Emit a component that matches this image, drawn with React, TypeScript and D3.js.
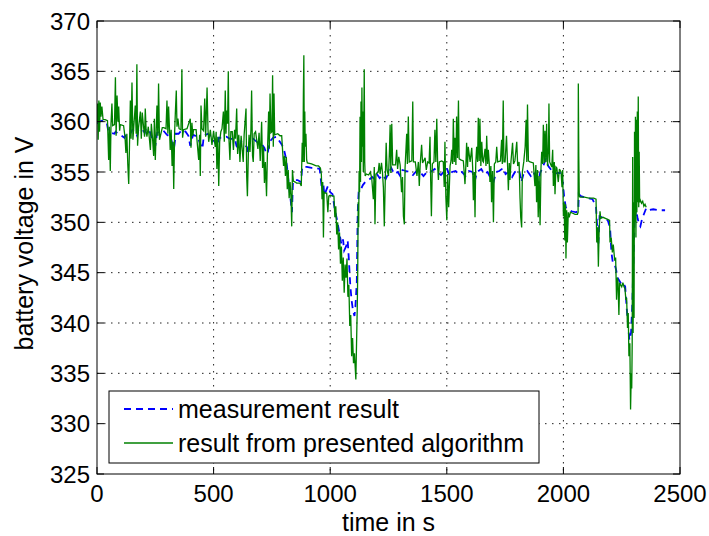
import React from "react";
import * as d3 from "d3";

const xTicks = [0, 500, 1000, 1500, 2000, 2500];
const yTicks = [325, 330, 335, 340, 345, 350, 355, 360, 365, 370];
const xLabel = "time in s";
const yLabel = "battery voltage in V";
const seriesNames = ["measurement result", "result from presented algorithm"];

// measurement result (blue dashed): [time s, voltage V]
const measured: [number, number][] = [
  [0, 359.8], [10, 360.0], [20, 360.1], [35, 360.0], [42, 359.9], [48, 359.1], [60, 358.9], [75, 358.8],
  [80, 359.0], [90, 358.8], [105, 358.6], [118, 358.4], [125, 358.8], [140, 358.7], [152, 359.2], [165, 359.0],
  [172, 358.6], [178, 359.2], [195, 359.2], [205, 358.9], [210, 359.3], [225, 359.1], [235, 358.4], [245, 358.2],
  [250, 357.6], [258, 358.9], [270, 359.0], [285, 359.1], [300, 358.7], [315, 358.5], [322, 357.9], [330, 357.3],
  [338, 358.8], [350, 358.8], [365, 359.2], [380, 359.0], [392, 358.6], [400, 357.6], [412, 358.7], [430, 358.5],
  [445, 357.7], [452, 357.3], [458, 358.6], [475, 358.8], [490, 358.5], [502, 358.1], [515, 357.5], [523, 358.4],
  [540, 358.4], [555, 358.5], [570, 358.3], [592, 358.3], [598, 357.6], [612, 357.2], [618, 358.0], [630, 357.7],
  [642, 357.5], [648, 356.9], [655, 358.2], [670, 358.3], [690, 357.9], [705, 357.8], [718, 357.4], [726, 356.8],
  [733, 357.0], [740, 358.0], [755, 358.4], [770, 358.5], [790, 357.8], [800, 357.4], [808, 356.6], [815, 355.5],
  [822, 353.9], [830, 352.3], [836, 351.0], [840, 353.8], [845, 354.2], [860, 354.2], [875, 354.0], [880, 355.5],
  [900, 355.5], [920, 355.4], [940, 355.4], [955, 355.3], [962, 353.8], [970, 354.0], [975, 352.7], [990, 353.6],
  [1000, 353.0], [1010, 352.8], [1020, 351.2], [1028, 350.4], [1035, 349.5], [1042, 348.6], [1048, 347.8], [1055, 348.3],
  [1060, 347.2], [1068, 347.6], [1075, 348.2], [1080, 346.3], [1086, 343.8], [1092, 342.2], [1098, 341.2], [1104, 340.7],
  [1108, 341.6], [1114, 344.0], [1118, 351.0], [1122, 353.0], [1130, 353.2], [1140, 353.7], [1150, 354.0], [1165, 354.2],
  [1180, 354.5], [1190, 354.3], [1200, 354.8], [1212, 354.4], [1225, 354.7], [1238, 354.3], [1250, 354.9], [1262, 355.4],
  [1275, 354.8], [1290, 355.0], [1300, 354.6], [1310, 355.2], [1325, 355.1], [1340, 355.0], [1355, 354.7], [1370, 355.1],
  [1385, 355.0], [1400, 354.6], [1418, 355.1], [1430, 355.0], [1448, 355.3], [1460, 355.0], [1475, 354.7], [1490, 355.1],
  [1500, 355.4], [1512, 354.6], [1522, 355.0], [1538, 355.1], [1550, 354.8], [1565, 355.0], [1580, 354.6], [1595, 355.1],
  [1610, 355.0], [1620, 354.1], [1630, 355.0], [1648, 355.3], [1660, 354.8], [1675, 355.0], [1690, 354.3], [1700, 354.0],
  [1712, 355.0], [1725, 355.1], [1742, 355.4], [1752, 354.8], [1765, 355.0], [1780, 354.5], [1792, 355.0], [1810, 355.2],
  [1820, 354.0], [1830, 354.9], [1845, 355.1], [1860, 354.6], [1872, 355.0], [1886, 354.2], [1892, 353.6], [1900, 354.9],
  [1912, 355.5], [1925, 356.3], [1935, 355.6], [1948, 355.2], [1960, 354.8], [1975, 354.9], [1990, 354.9], [1998, 353.8],
  [2003, 352.6], [2010, 351.5], [2020, 351.3], [2035, 351.1], [2055, 351.0], [2064, 351.2], [2066, 352.8], [2075, 352.6],
  [2090, 352.5], [2105, 352.4], [2125, 352.3], [2140, 351.5], [2145, 349.5], [2150, 347.9], [2155, 350.6], [2165, 350.5],
  [2180, 350.4], [2190, 350.2], [2200, 349.5], [2206, 347.0], [2212, 346.0], [2220, 345.8], [2226, 345.3], [2232, 344.5],
  [2240, 344.2], [2250, 343.8], [2258, 343.9], [2265, 343.6], [2271, 341.6], [2278, 339.6], [2283, 338.3], [2290, 339.0],
  [2295, 341.5], [2300, 345.8], [2305, 350.0], [2312, 351.3], [2318, 350.4], [2325, 349.8], [2330, 349.6], [2336, 350.2],
  [2345, 350.8], [2355, 351.4], [2365, 351.2], [2385, 351.3], [2410, 351.2], [2436, 351.2],
];

// result from presented algorithm (green solid): [time s, voltage V]
const algorithm: [number, number][] = [
  [0, 360.0], [3, 361.8], [5, 358.2], [8, 362.1], [11, 359.0], [14, 361.9], [17, 360.5], [21, 361.5], [26, 360.2],
  [35, 360.2], [45, 360.1], [50, 356.2], [53, 359.5], [57, 355.1], [60, 359.8], [64, 361.8], [67, 359.6], [75, 359.7],
  [79, 364.4], [82, 358.6], [86, 362.6], [90, 360.0], [93, 361.5], [97, 359.1], [100, 359.7], [114, 359.6], [120, 358.5],
  [124, 356.9], [128, 358.8], [132, 355.8], [136, 353.8], [139, 357.2], [143, 362.1], [146, 358.3], [150, 363.9],
  [154, 358.2], [158, 359.6], [164, 361.6], [168, 358.8], [171, 365.7], [174, 357.6], [178, 359.4], [186, 361.0],
  [190, 358.3], [194, 360.9], [200, 359.4], [204, 358.5], [207, 361.3], [211, 359.0], [214, 358.5], [220, 359.5],
  [229, 357.2], [233, 359.8], [238, 358.4], [243, 356.6], [246, 360.3], [250, 356.2], [254, 359.2], [257, 361.6],
  [261, 358.6], [264, 363.8], [268, 358.2], [272, 358.6], [280, 359.4], [286, 359.4], [296, 359.3], [300, 362.1],
  [304, 358.8], [307, 361.5], [311, 359.2], [314, 357.2], [318, 359.2], [322, 355.6], [326, 358.0], [329, 353.3],
  [333, 359.0], [336, 360.9], [340, 363.1], [343, 359.5], [347, 360.3], [352, 359.3], [360, 359.2], [364, 365.2],
  [367, 358.4], [371, 359.2], [386, 359.3], [400, 360.3], [403, 357.4], [407, 359.9], [411, 358.6], [414, 359.2],
  [425, 359.2], [436, 356.2], [440, 358.7], [443, 354.6], [446, 361.6], [450, 359.3], [457, 359.1], [462, 362.3],
  [466, 358.5], [472, 363.4], [476, 359.2], [479, 358.0], [486, 359.2], [493, 357.7], [500, 359.1], [507, 357.5],
  [511, 359.0], [514, 355.3], [518, 358.5], [522, 353.6], [526, 358.0], [531, 359.0], [536, 359.3], [542, 361.0],
  [546, 358.0], [550, 363.1], [553, 358.8], [556, 361.1], [560, 359.8], [563, 365.0], [566, 358.2], [570, 356.2],
  [574, 359.0], [580, 359.0], [585, 357.2], [590, 359.2], [594, 358.3], [599, 361.3], [603, 356.8], [608, 358.7],
  [613, 356.0], [618, 358.6], [627, 356.0], [631, 358.7], [639, 361.3], [642, 354.5], [645, 352.6], [649, 356.8],
  [652, 358.7], [656, 357.0], [660, 359.2], [663, 363.1], [667, 356.6], [670, 356.0], [674, 358.8], [680, 359.0],
  [690, 357.3], [695, 358.9], [700, 356.1], [706, 360.0], [710, 355.4], [714, 357.5], [718, 353.9], [722, 356.0],
  [727, 352.6], [731, 357.0], [736, 361.0], [739, 357.3], [742, 362.8], [746, 358.9], [750, 359.0], [753, 364.6],
  [756, 357.5], [759, 362.8], [762, 358.7], [775, 358.8], [785, 358.6], [792, 358.6], [796, 357.1], [800, 355.6],
  [804, 356.6], [808, 354.6], [812, 356.5], [816, 353.3], [820, 355.2], [824, 352.4], [828, 354.0], [832, 352.4],
  [835, 349.6], [838, 355.2], [842, 354.1], [850, 354.0], [856, 353.9], [862, 353.9], [870, 353.9], [876, 353.6],
  [880, 357.9], [883, 356.0], [885, 362.7], [887, 366.6], [889, 356.0], [891, 361.0], [893, 357.5], [896, 358.8],
  [899, 356.2], [902, 355.9], [920, 355.8], [940, 355.6], [950, 355.6], [958, 355.4], [962, 354.8], [965, 352.3],
  [968, 354.0], [971, 348.5], [974, 353.0], [978, 352.9], [985, 352.9], [990, 351.0], [994, 352.6], [1000, 352.7],
  [1010, 352.6], [1016, 352.6], [1020, 350.5], [1024, 351.6], [1028, 348.8], [1032, 350.0], [1036, 347.3], [1040, 349.0],
  [1044, 345.9], [1048, 347.6], [1052, 344.2], [1056, 346.5], [1060, 343.0], [1064, 345.8], [1068, 344.5], [1072, 346.4],
  [1076, 342.6], [1080, 343.8], [1084, 339.7], [1088, 340.8], [1092, 336.7], [1096, 338.5], [1100, 336.0], [1104, 337.0],
  [1110, 334.4], [1113, 338.0], [1116, 341.5], [1118, 345.0], [1120, 352.0], [1122, 349.5], [1124, 355.1], [1126, 353.0],
  [1128, 360.5], [1130, 354.0], [1132, 362.0], [1134, 356.0], [1136, 363.4], [1138, 357.5], [1140, 361.0], [1142, 355.0],
  [1144, 359.5], [1146, 365.2], [1148, 356.0], [1150, 354.6], [1155, 354.8], [1165, 354.7], [1172, 355.0], [1178, 354.4],
  [1185, 352.3], [1189, 355.5], [1192, 349.8], [1196, 354.8], [1206, 355.0], [1210, 355.9], [1214, 354.8], [1220, 355.9],
  [1224, 355.0], [1228, 353.5], [1232, 349.6], [1236, 354.0], [1240, 357.9], [1244, 355.2], [1250, 354.6], [1254, 357.0],
  [1257, 359.7], [1260, 354.9], [1264, 359.8], [1268, 355.7], [1280, 355.7], [1285, 357.2], [1289, 355.3], [1294, 356.5],
  [1300, 355.7], [1306, 353.0], [1310, 354.5], [1314, 350.6], [1318, 349.8], [1321, 355.4], [1328, 358.8], [1331, 355.8],
  [1335, 360.5], [1339, 356.0], [1350, 356.1], [1354, 362.0], [1357, 356.0], [1365, 356.0], [1372, 354.6], [1378, 356.0],
  [1382, 353.6], [1386, 355.8], [1392, 357.7], [1396, 355.9], [1407, 356.4], [1412, 355.2], [1418, 356.0], [1424, 355.9],
  [1428, 358.5], [1431, 354.0], [1434, 350.6], [1438, 355.8], [1445, 356.0], [1449, 359.2], [1453, 356.0], [1457, 360.3],
  [1461, 355.5], [1464, 354.2], [1468, 356.0], [1478, 356.1], [1485, 356.0], [1489, 353.5], [1492, 358.0], [1496, 352.5],
  [1500, 350.2], [1504, 354.8], [1508, 351.5], [1514, 355.6], [1518, 356.1], [1521, 357.2], [1525, 355.8], [1528, 360.3],
  [1532, 356.0], [1535, 358.4], [1539, 355.7], [1542, 360.5], [1546, 356.4], [1550, 362.1], [1553, 356.3], [1560, 356.2],
  [1571, 356.1], [1578, 353.8], [1582, 355.8], [1585, 357.9], [1589, 355.5], [1592, 357.5], [1600, 356.0], [1607, 357.4],
  [1611, 355.4], [1614, 352.2], [1618, 355.0], [1621, 350.5], [1624, 355.8], [1628, 357.5], [1632, 356.0], [1635, 360.4],
  [1639, 356.1], [1642, 360.3], [1646, 355.6], [1650, 358.0], [1654, 356.1], [1657, 356.0], [1664, 357.3], [1668, 355.6],
  [1671, 358.6], [1675, 355.8], [1678, 357.2], [1682, 355.9], [1685, 354.0], [1689, 355.6], [1692, 352.0], [1696, 355.1],
  [1700, 350.0], [1704, 355.8], [1710, 356.0], [1714, 357.5], [1718, 356.0], [1730, 356.1], [1735, 358.2], [1738, 355.8],
  [1742, 362.1], [1745, 356.0], [1750, 356.0], [1756, 358.6], [1760, 356.1], [1764, 353.2], [1768, 355.9], [1771, 354.2],
  [1775, 356.0], [1782, 357.9], [1786, 355.8], [1792, 356.1], [1800, 358.0], [1804, 355.6], [1810, 356.0], [1814, 352.4],
  [1817, 350.5], [1821, 349.5], [1824, 355.0], [1830, 356.0], [1836, 357.5], [1840, 360.2], [1843, 356.0], [1846, 361.7],
  [1850, 356.1], [1857, 356.0], [1871, 355.9], [1878, 353.6], [1882, 355.7], [1885, 352.0], [1889, 355.2], [1892, 350.5],
  [1896, 354.6], [1900, 349.7], [1904, 355.5], [1907, 357.0], [1911, 355.8], [1914, 359.7], [1918, 355.9], [1921, 359.1],
  [1925, 356.0], [1928, 359.8], [1932, 355.6], [1936, 357.3], [1938, 361.8], [1941, 356.0], [1943, 355.9], [1950, 355.5],
  [1954, 357.2], [1957, 353.6], [1961, 356.0], [1964, 352.8], [1968, 355.5], [1972, 355.4], [1978, 354.0], [1983, 355.3],
  [1990, 355.0], [1994, 353.5], [1997, 355.2], [2000, 350.6], [2003, 352.0], [2006, 348.2], [2009, 351.8], [2011, 346.4],
  [2014, 351.2], [2017, 348.0], [2021, 351.0], [2025, 350.5], [2030, 351.0], [2040, 350.9], [2050, 350.8], [2060, 350.8],
  [2063, 351.0], [2064, 363.8], [2066, 356.5], [2068, 352.6], [2071, 352.5], [2090, 352.5], [2110, 352.4], [2130, 352.4],
  [2140, 352.3], [2143, 348.0], [2147, 349.5], [2150, 345.6], [2153, 349.0], [2157, 351.1], [2160, 350.4], [2170, 350.5],
  [2180, 350.4], [2190, 350.3], [2198, 350.2], [2200, 348.0], [2205, 348.5], [2210, 347.0], [2214, 347.8], [2220, 346.2],
  [2224, 346.5], [2228, 342.3], [2231, 344.5], [2234, 344.2], [2238, 340.8], [2241, 344.0], [2245, 343.8], [2250, 343.6],
  [2255, 344.0], [2260, 343.6], [2264, 343.4], [2268, 342.3], [2271, 342.5], [2275, 339.5], [2278, 341.0], [2281, 336.7],
  [2285, 338.0], [2288, 331.4], [2291, 335.0], [2293, 333.5], [2295, 338.0], [2297, 356.5], [2299, 339.0], [2301, 352.0],
  [2303, 340.5], [2305, 359.0], [2307, 350.0], [2309, 360.5], [2311, 348.5], [2313, 360.2], [2315, 351.0], [2317, 361.0],
  [2319, 352.0], [2321, 362.5], [2323, 351.5], [2325, 357.0], [2327, 352.0], [2330, 352.2], [2335, 351.9], [2340, 352.1],
  [2345, 351.6], [2350, 351.8], [2355, 351.5],
];

const FONT = "'Liberation Sans', Arial, Helvetica, sans-serif";

export default function App() {
  const W = 709;
  const H = 536;
  const left = 97, right = 680, top = 21, bottom = 474;
  const x = d3.scaleLinear().domain([0, 2500]).range([left, right]);
  const y = d3.scaleLinear().domain([325, 370]).range([bottom, top]);
  const line = d3
    .line<[number, number]>()
    .x((d) => x(d[0]))
    .y((d) => y(d[1]));
  const tickLen = 7;
  const fs = 24;

  return (
    <svg
      width={W}
      height={H}
      style={{ position: "fixed", left: 0, top: 0, background: "#fff", fontFamily: FONT }}
    >
      <rect x={0} y={0} width={W} height={H} fill="#fff" />
      <defs>
        <clipPath id="plotclip">
          <rect x={left} y={top} width={right - left} height={bottom - top} />
        </clipPath>
      </defs>
      {/* grid */}
      {xTicks.slice(1, -1).map((t) => (
        <line key={"gx" + t} x1={x(t)} x2={x(t)} y1={top} y2={bottom} stroke="#222" strokeWidth={1} strokeDasharray="1.5,5.5" />
      ))}
      {yTicks.slice(1, -1).map((t) => (
        <line key={"gy" + t} x1={left} x2={right} y1={y(t)} y2={y(t)} stroke="#222" strokeWidth={1} strokeDasharray="1.5,5.5" />
      ))}
      {/* data */}
      <g clipPath="url(#plotclip)">
        <path d={line(measured) || ""} fill="none" stroke="#0000ff" strokeWidth={1.8} strokeDasharray="7,5" />
        <path d={line(algorithm) || ""} fill="none" stroke="#008000" strokeWidth={1.3} strokeLinejoin="miter" strokeMiterlimit={3} />
      </g>
      {/* ticks */}
      {xTicks.map((t) => (
        <g key={"tx" + t}>
          <line x1={x(t)} x2={x(t)} y1={bottom} y2={bottom - tickLen} stroke="#000" />
          <line x1={x(t)} x2={x(t)} y1={top} y2={top + tickLen} stroke="#000" />
          <text x={x(t)} y={502} textAnchor="middle" fontSize={fs} fill="#000">
            {t}
          </text>
        </g>
      ))}
      {yTicks.map((t) => (
        <g key={"ty" + t}>
          <line x1={left} x2={left + tickLen} y1={y(t)} y2={y(t)} stroke="#000" />
          <line x1={right} x2={right - tickLen} y1={y(t)} y2={y(t)} stroke="#000" />
          <text x={90} y={y(t) + 8.5} textAnchor="end" fontSize={fs} fill="#000">
            {t}
          </text>
        </g>
      ))}
      {/* box */}
      <rect x={left} y={top} width={right - left} height={bottom - top} fill="none" stroke="#000" strokeWidth={1} />
      {/* axis labels */}
      <text x={(left + right) / 2} y={531} textAnchor="middle" fontSize={25} fill="#000">
        {xLabel}
      </text>
      <text transform={`translate(33,${(top + bottom) / 2 - 4}) rotate(-90)`} textAnchor="middle" fontSize={25} fill="#000">
        {yLabel}
      </text>
      {/* legend */}
      <g>
        <rect x={109} y={391} width={430} height={72} fill="#fff" stroke="#000" strokeWidth={1} />
        <line x1={124} x2={173} y1={409} y2={409} stroke="#0000ff" strokeWidth={1.8} strokeDasharray="7,5" />
        <text x={178} y={418} fontSize={25} fill="#000">
          {seriesNames[0]}
        </text>
        <line x1={124} x2={173} y1={443} y2={443} stroke="#008000" strokeWidth={1.3} />
        <text x={178} y={452} fontSize={25} fill="#000">
          {seriesNames[1]}
        </text>
      </g>
    </svg>
  );
}
